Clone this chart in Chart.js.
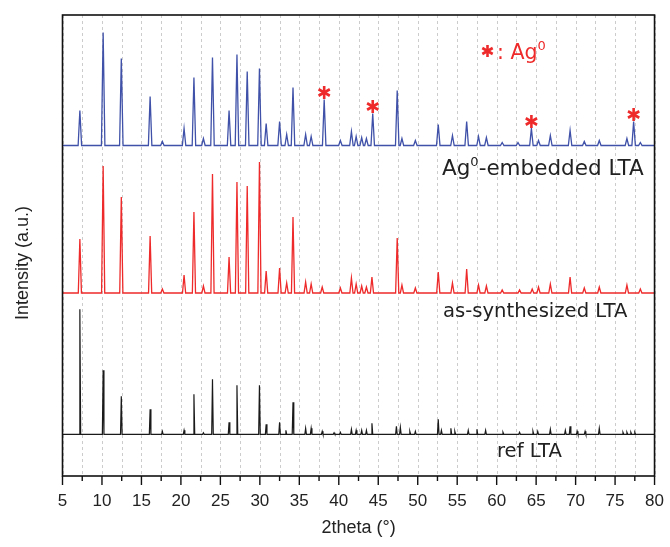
<!DOCTYPE html>
<html><head><meta charset="utf-8">
<script src="https://cdn.jsdelivr.net/npm/chart.js@4.4.0/dist/chart.umd.min.js"></script>
<style>html,body{margin:0;padding:0;background:#fff}#wrap{width:670px;height:547px}</style>
</head><body><div id="wrap"><canvas id="c" width="670" height="547"></canvas></div>
<script>
// ---- data (2theta in degrees, intensity in a.u.) ----
const xMin = 5, xMax = 80;
const xTickLabels = [5,10,15,20,25,30,35,40,45,50,55,60,65,70,75,80];

const seriesNames = ['Ag\u2070-embedded LTA', 'as-synthesized LTA', 'ref LTA'];
const seriesOffsets = [330.5, 183, 41.7];   // stacking offsets of the three patterns

const agPeakPos = [7.2,10.15,12.45,16.1,17.65,20.4,21.65,22.85,24.0,26.1,27.1,28.4,29.95,30.8,32.5,33.4,34.2,35.8,36.5,38.15,40.2,41.6,42.2,42.9,43.5,44.3,47.4,48.0,49.7,52.6,54.4,56.2,57.7,58.7,60.7,62.7,64.4,65.3,66.8,69.3,71.1,73.0,76.5,77.35,78.2];
const agPeakInt = [35,113,87,49,4,17,68,7,88,35,91,74,77,22,24,11,58,11,9,46,5,14,9,8,7,32,55,7,5,21,10,24,9,8,3,3,17,5,10,15,4,5,7,24,3];

const asPeakPos = [7.2,10.15,12.45,16.1,17.65,20.4,21.65,22.85,24.0,26.1,27.1,28.4,29.95,30.8,32.5,33.4,34.2,35.8,36.5,37.9,40.2,41.6,42.2,42.9,43.5,44.2,47.4,48.0,49.7,52.6,54.4,56.2,57.7,58.7,60.7,62.9,64.5,65.3,66.8,69.3,71.1,73.0,76.5,78.2];
const asPeakInt = [54,127,96,57,4,18,81,7,119,36,111,107,131,22,25,10,76,11,9,6,5,15,9,7,6,16,55,8,5,21,10,24,8,7,3,3,4,6,9,16,5,6,8,4];

const refPeakPos = [7.2,10.15,12.45,16.1,17.65,20.4,21.65,22.85,24.0,26.1,27.1,29.95,30.8,32.5,33.3,34.2,35.8,36.5,37.9,39.4,40.2,41.6,42.2,42.9,43.5,44.2,47.3,47.8,49.0,49.7,52.6,53.0,54.2,54.7,56.4,57.5,58.6,60.8,62.9,64.6,65.2,66.8,68.7,69.3,70.2,71.2,73.0,76.0,76.5,77.0,77.5];
const refPeakInt = [125,64,38,25,3,4,40,1.5,55,12,49,49,10,12,4,32,6,6,3,1.5,2,5,4,4,4,11,8,7,3,3,15,4,6,3,4,5,4,2,2,3,3,5,4,8,3,3,6,2,2,2,2];

const silverReflections = [38.15, 44.3, 64.4, 77.35];   // marked with * (Ag0)

// ---- build line points for the library ----
function buildPattern(pos, inten, base, hw) {
  const pts = [{x: xMin, y: base}];
  pos.forEach((p, i) => {
    pts.push({x: p - hw, y: base});
    pts.push({x: p, y: base + inten[i]});
    pts.push({x: p + hw, y: base});
  });
  pts.push({x: xMax, y: base});
  return pts;
}

const colors = ['#3f51a8', '#ee2a2a', '#1a1a1a'];

const datasets = [
  {label: seriesNames[0], data: buildPattern(agPeakPos, agPeakInt, seriesOffsets[0], 0.22), borderColor: colors[0], borderWidth: 1.3},
  {label: seriesNames[1], data: buildPattern(asPeakPos, asPeakInt, seriesOffsets[1], 0.2), borderColor: colors[1], borderWidth: 1.3},
  {label: seriesNames[2], data: buildPattern(refPeakPos, refPeakInt, seriesOffsets[2], 0.1), borderColor: colors[2], borderWidth: 1.2}
].map(d => Object.assign(d, {pointRadius: 0, tension: 0, fill: false}));

function drawStar(ctx, cx, cy, r, color, w) {
  ctx.save();
  ctx.strokeStyle = color; ctx.lineWidth = w; ctx.lineCap = 'butt';
  [90, 30, -30].forEach(deg => {
    const a = deg * Math.PI / 180;
    ctx.beginPath();
    ctx.moveTo(cx - r * Math.cos(a), cy - r * Math.sin(a));
    ctx.lineTo(cx + r * Math.cos(a), cy + r * Math.sin(a));
    ctx.stroke();
  });
  ctx.restore();
}

function drawSupText(ctx, parts, x, y, color) {
  // parts: [text, fontSize, raise]
  ctx.fillStyle = color;
  ctx.textBaseline = 'alphabetic';
  ctx.textAlign = 'left';
  parts.forEach(([t, fs, raise]) => {
    ctx.font = fs + 'px "DejaVu Sans"';
    ctx.fillText(t, x, y - raise);
    x += ctx.measureText(t).width;
  });
}

const decor = {
  id: 'decor',
  beforeDatasetsDraw(chart) {
    const {ctx, chartArea: a, scales: {x}} = chart;
    ctx.save();
    ctx.strokeStyle = '#cccccc'; ctx.lineWidth = 1; ctx.setLineDash([3, 3]);
    x.ticks.forEach(t => {
      const px = Math.round(x.getPixelForValue(t.value)) + 0.5;
      ctx.beginPath(); ctx.moveTo(px, a.top); ctx.lineTo(px, a.bottom); ctx.stroke();
    });
    ctx.restore();
  },
  afterDraw(chart) {
    const {ctx, chartArea: a, scales: {x, y}} = chart;
    ctx.save();
    // frame
    ctx.strokeStyle = '#111'; ctx.lineWidth = 1.6;
    ctx.strokeRect(a.left, a.top, a.right - a.left, a.bottom - a.top);
    // tick marks
    ctx.lineWidth = 1.4;
    x.ticks.forEach(t => {
      const px = x.getPixelForValue(t.value);
      const major = xTickLabels.includes(t.value);
      ctx.beginPath(); ctx.moveTo(px, a.bottom); ctx.lineTo(px, a.bottom + (major ? 9 : 5)); ctx.stroke();
    });
    // y title
    ctx.save();
    ctx.translate(23, 263); ctx.rotate(-Math.PI / 2);
    ctx.fillStyle = '#222'; ctx.font = '18px "Liberation Sans", Arial, sans-serif';
    ctx.textAlign = 'center'; ctx.textBaseline = 'middle';
    ctx.fillText('Intensity (a.u.)', 0, 0);
    ctx.restore();
    // asterisks above Ag0 reflections
    silverReflections.forEach(p => {
      const i = agPeakPos.indexOf(p);
      const top = y.getPixelForValue(seriesOffsets[0] + agPeakInt[i]);
      drawStar(ctx, x.getPixelForValue(p), top - 7, 6.5, '#ee2a2a', 2.6);
    });
    // legend for asterisk
    drawStar(ctx, 487.5, 51, 6, '#ee2a2a', 2.6);
    drawSupText(ctx, [[': Ag', 20.5, 0], ['0', 13, 9]], 497, 58.5, '#ee2a2a');
    // series labels
    drawSupText(ctx, [['Ag', 21.5, 0], ['0', 13, 9], ['-embedded LTA', 21.5, 0]], 442, 175, '#222');
    drawSupText(ctx, [['as-synthesized LTA', 19.6, 0]], 443, 317, '#222');
    drawSupText(ctx, [['ref LTA', 19.6, 0]], 497, 456.5, '#222');
    ctx.restore();
  }
};

new Chart(document.getElementById('c'), {
  type: 'line',
  data: {datasets},
  options: {
    responsive: false,
    animation: false,
    parsing: true,
    layout: {padding: {top: 15, right: 12, bottom: 0, left: 62.5}},
    plugins: {legend: {display: false}, tooltip: {enabled: false}},
    scales: {
      x: {
        type: 'linear', min: xMin, max: xMax,
        afterFit: s => { s.height = 71; },
        ticks: {
          stepSize: 2.5, autoSkip: false, maxRotation: 0, padding: 6,
          color: '#222', font: {family: '"Liberation Sans", Arial, sans-serif', size: 17},
          callback: v => xTickLabels.includes(v) ? String(v) : ''
        },
        grid: {display: true, drawOnChartArea: false, drawTicks: true, tickLength: 9, tickColor: 'rgba(0,0,0,0)'},
        border: {display: false},
        title: {display: true, text: '2theta (\u00b0)', color: '#222',
                font: {family: '"Liberation Sans", Arial, sans-serif', size: 18}, padding: {top: 0, bottom: 8}}
      },
      y: {type: 'linear', min: 0, max: 461, display: false}
    }
  },
  plugins: [decor]
});
</script>
</body></html>
